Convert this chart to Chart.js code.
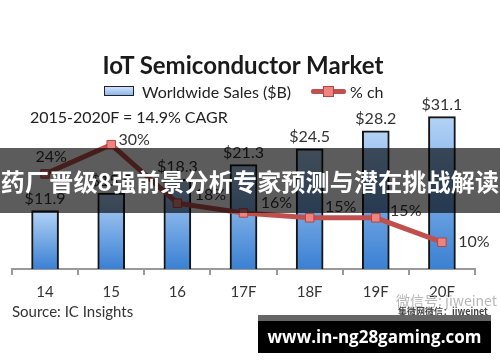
<html lang="zh">
<head>
<meta charset="UTF-8">
<title>IoT Semiconductor Market</title>
<script src="https://cdn.jsdelivr.net/npm/chart.js"></script>
<style>
  body, html { margin: 0; padding: 0; background: #fff; }
  .wrap { position: relative; width: 500px; height: 362px; overflow: hidden; font-family: Lato, "Noto Sans", sans-serif; color: #222; }
  #chart { position: absolute; left: 0; top: 0; }
  .title { position: absolute; left: 0; width: 486px; top: 50px; text-align: center; font-size: 24px; font-weight: bold; color: #1a1a1a; }
  .legend { position: absolute; top: 82px; left: 104px; font-size: 16px; height: 20px; line-height: 20px; }
  .legend .box { position: absolute; left: 0; top: 4px; width: 28px; height: 8px; border: 1.5px solid #222; background: linear-gradient(#cfe2fa, #8db8ec); }
  .legend .t1 { position: absolute; left: 38px; top: 0; white-space: nowrap; }
  .legend .ln { position: absolute; left: 207px; top: 7px; width: 35px; height: 5px; background: #c0504d; border-radius: 2px; }
  .legend .mk { position: absolute; left: 219px; top: 4px; width: 9px; height: 9px; background: #ec8580; border: 1px solid #b54440; }
  .legend .t2 { position: absolute; left: 246px; top: 0; white-space: nowrap; }
  .cagr { position: absolute; left: 30px; top: 107px; font-size: 16px; white-space: nowrap; }
  .source { position: absolute; left: 12px; top: 302px; font-size: 15px; white-space: nowrap; color: #333; }
  .banner { position: absolute; left: 0; top: 148px; width: 500px; height: 65px; background: rgba(0,0,0,0.64); color: #fff; font-family: "Noto Sans CJK SC", sans-serif; font-weight: bold; font-size: 24px; letter-spacing: 0.2px; line-height: 65px; text-align: center; white-space: nowrap; }
  .wm1 { position: absolute; left: 396px; top: 290px; font-family: "Noto Sans CJK SC", sans-serif; font-size: 14px; color: #b8b8b8; white-space: nowrap; }
  .wm2 { position: absolute; left: 398px; top: 305px; font-family: "Noto Sans CJK SC", sans-serif; font-size: 9px; font-weight: bold; color: #444; white-space: nowrap; }
  .url { position: absolute; left: 258px; top: 315px; width: 233px; height: 38px; background: #000; border-top: 6px solid #666; box-sizing: border-box; color: #fff; font-family: "Open Sans", sans-serif; font-weight: bold; font-size: 17px; line-height: 31px; text-align: center; white-space: nowrap; }
</style>
</head>
<body>
<div class="wrap">
  <canvas id="chart" width="500" height="362"></canvas>
  <div class="title">IoT Semiconductor Market</div>
  <div class="legend">
    <div class="box"></div><div class="t1">Worldwide Sales ($B)</div>
    <div class="ln"></div><div class="mk"></div><div class="t2">% ch</div>
  </div>
  <div class="cagr">2015-2020F = 14.9% CAGR</div>
  <div class="source">Source: IC Insights</div>
  <div class="banner">药厂晋级8强前景分析专家预测与潜在挑战解读</div>
  <div class="wm1">微信号: jiweinet</div>
  <div class="wm2">集微网微信：jiweinet</div>
  <div class="url">www.in-ng28gaming.com</div>
</div>
<script>
  // data
  const years = ['14', '15', '16', '17F', '18F', '19F', '20F'];
  const sales = [11.9, 15.5, 18.3, 21.3, 24.5, 28.2, 31.1];
  const change = [24, 30, 18, 16, 15, 15, 10];

  // where each % label sits relative to its point
  const pctOffsets = [[6, -17], [23, -5], [33, -8], [33, -10], [31, -11], [30, -7], [32, 0]];

  function barGradient(ctx) {
    const chart = ctx.chart;
    if (!chart.chartArea || ctx.type !== 'data') return '#6aa3e6';
    const yScale = chart.scales.y;
    const top = yScale.getPixelForValue(ctx.raw);
    const bottom = yScale.getPixelForValue(0);
    const g = chart.ctx.createLinearGradient(0, top, 0, bottom);
    g.addColorStop(0, '#b4d3f6');
    g.addColorStop(1, '#3a80d3');
    return g;
  }

  const labelPlugin = {
    id: 'labels',
    afterDatasetsDraw(chart) {
      const c = chart.ctx;
      c.save();
      c.font = '16px Lato';
      c.fillStyle = '#333';
      c.textAlign = 'center';
      c.textBaseline = 'middle';
      chart.getDatasetMeta(0).data.forEach((bar, i) => {
        c.fillText('$' + sales[i].toFixed(1), bar.x, bar.y - 12);
      });
      chart.getDatasetMeta(1).data.forEach((pt, i) => {
        c.fillText(change[i] + '%', pt.x + pctOffsets[i][0], pt.y + pctOffsets[i][1]);
      });
      c.restore();
    }
  };

  new Chart(document.getElementById('chart'), {
    data: {
      labels: years,
      datasets: [
        {
          type: 'bar',
          label: 'Worldwide Sales ($B)',
          data: sales,
          yAxisID: 'y',
          backgroundColor: barGradient,
          borderColor: '#151515',
          borderWidth: 2,
          barThickness: 27,
          order: 2
        },
        {
          type: 'line',
          label: '% ch',
          data: change,
          yAxisID: 'y2',
          borderColor: '#c0504d',
          borderWidth: 5,
          tension: 0,
          pointStyle: 'rect',
          pointRadius: 6,
          pointBackgroundColor: '#ec8580',
          pointBorderColor: '#b54440',
          pointBorderWidth: 1,
          order: 1
        }
      ]
    },
    options: {
      responsive: false,
      animation: false,
      layout: { padding: { left: 12, right: 25, top: 73, bottom: 53 } },
      plugins: { legend: { display: false }, title: { display: false }, tooltip: { enabled: false } },
      scales: {
        x: {
          ticks: { color: '#333', font: { family: 'Lato', size: 15 }, padding: 8 },
          grid: { offset: true, drawOnChartArea: false, drawTicks: true, tickLength: 6, color: '#999', lineWidth: 2 },
          border: { color: '#999', width: 2 }
        },
        y: { display: false, min: 0, max: 40 },
        y2: { display: false, min: 4.5, max: 44.7 }
      }
    },
    plugins: [labelPlugin]
  });
</script>
</body>
</html>
